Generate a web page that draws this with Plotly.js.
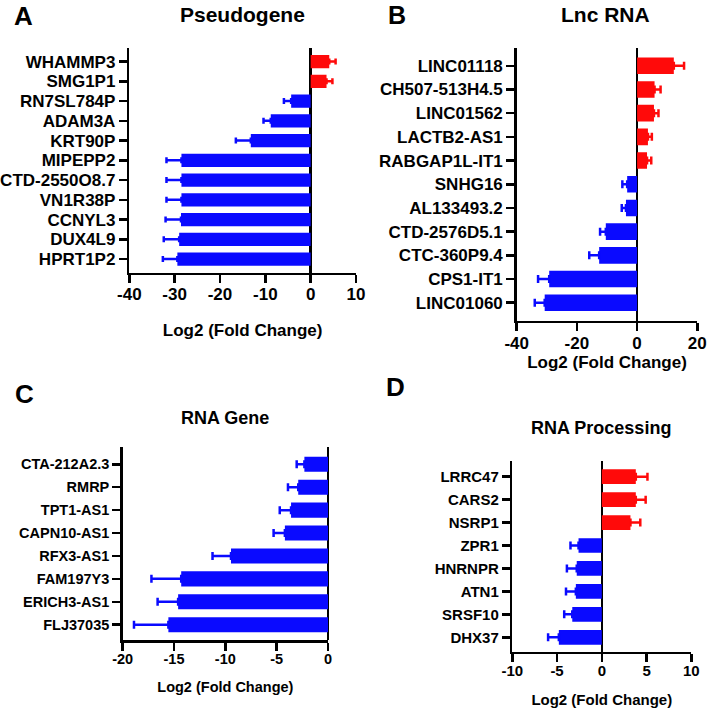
<!DOCTYPE html>
<html>
<head>
<meta charset="utf-8">
<script src="https://cdn.plot.ly/plotly-3.0.1.min.js"></script>
<style>html,body{margin:0;padding:0;background:#fff;}#chart{width:708px;height:711px;}</style>
</head>
<body>
<div id="chart"></div>
<script>
// ---- Panel A: Pseudogene ----
const catsA = ['WHAMMP3','SMG1P1','RN7SL784P','ADAM3A','KRT90P','MIPEPP2','CTD-2550O8.7','VN1R38P','CCNYL3','DUX4L9','HPRT1P2'];
const valsA = [4.1, 3.5, -4.3, -8.8, -13.2, -28.5, -28.5, -28.5, -28.6, -29.0, -29.4];
const errA  = [1.4, 1.3, 1.6, 1.6, 3.3, 3.3, 3.3, 3.3, 3.4, 3.4, 3.2];
const ticksA = [-40, -30, -20, -10, 0, 10];

// ---- Panel B: Lnc RNA ----
const catsB = ['LINC01118','CH507-513H4.5','LINC01562','LACTB2-AS1','RABGAP1L-IT1','SNHG16','AL133493.2','CTD-2576D5.1','CTC-360P9.4','CPS1-IT1','LINC01060'];
const valsB = [12.2, 5.8, 5.6, 3.6, 3.3, -3.3, -3.7, -10.4, -12.6, -29.2, -30.7];
const errB  = [3.4, 2.0, 1.5, 1.3, 1.4, 1.6, 1.4, 1.9, 3.3, 3.7, 3.3];
const ticksB = [-40, -20, 0, 20];

// ---- Panel C: RNA Gene ----
const catsC = ['CTA-212A2.3','RMRP','TPT1-AS1','CAPN10-AS1','RFX3-AS1','FAM197Y3','ERICH3-AS1','FLJ37035'];
const valsC = [-2.3, -2.9, -3.6, -4.2, -9.45, -14.3, -14.6, -15.55];
const errC  = [0.75, 1.0, 1.1, 1.1, 1.8, 2.9, 2.0, 3.35];
const ticksC = [-20, -15, -10, -5, 0];

// ---- Panel D: RNA Processing ----
const catsD = ['LRRC47','CARS2','NSRP1','ZPR1','HNRNPR','ATN1','SRSF10','DHX37'];
const valsD = [3.8, 3.8, 3.2, -2.6, -2.8, -2.9, -3.3, -4.8];
const errD  = [1.3, 1.1, 1.1, 0.9, 1.1, 1.1, 0.9, 1.2];
const ticksD = [-10, -5, 0, 5, 10];

const titles = ['Pseudogene', 'Lnc RNA', 'RNA Gene', 'RNA Processing'];
const letters = ['A', 'B', 'C', 'D'];
const xTitle = 'Log2 (Fold Change)';

const RED = '#ff0a0a', BLUE = '#0a0aff';
const FAM = 'Liberation Sans, Arial, Helvetica, sans-serif';
const W = 708, H = 711;
const px = v => v / W;
const py = v => 1 - v / H;

function traces(cats, vals, errs, xa, ya, capw, lw) {
  const out = [];
  [[1, RED], [-1, BLUE]].forEach(([s, col]) => {
    const x = vals.map(v => (Math.sign(v) === s ? v : null));
    const plus = vals.map((v, i) => (s > 0 && v > 0 ? errs[i] : 0));
    const minus = vals.map((v, i) => (s < 0 && v < 0 ? errs[i] : 0));
    out.push({
      type: 'bar', orientation: 'h', x: x, y: cats, xaxis: xa, yaxis: ya,
      marker: {color: col, line: {width: 0}},
      width: lw,
      error_x: {type: 'data', symmetric: false, array: plus, arrayminus: minus,
                color: col, thickness: 2.5, width: capw},
      hoverinfo: 'x+y', showlegend: false
    });
  });
  return out;
}

const data = [].concat(
  traces(catsA, valsA, errA, 'x', 'y', 3, 0.67),
  traces(catsB, valsB, errB, 'x2', 'y2', 4, 0.70),
  traces(catsC, valsC, errC, 'x3', 'y3', 4, 0.66),
  traces(catsD, valsD, errD, 'x4', 'y4', 4, 0.64)
);

function xax(dom, range, ticks, fs, anchor, standoff, lblOff) {
  return {
    domain: [px(dom[0]), px(dom[1])], range: range, anchor: anchor,
    tickmode: 'array', tickvals: ticks, ticktext: ticks.map(String),
    showline: true, linecolor: '#000', linewidth: 2.5,
    ticks: 'outside', ticklen: 8, tickwidth: 2.5, tickcolor: '#000',
    ticklabelstandoff: lblOff,
    showgrid: false, zeroline: true, zerolinecolor: '#000', zerolinewidth: 2.5,
    tickfont: {family: FAM, size: fs, color: '#000', weight: 700},
    title: {text: xTitle, standoff: standoff, font: {family: FAM, size: fs, color: '#000', weight: 700}},
    fixedrange: true
  };
}
function yax(top, bot, cats, r, fs, anchor) {
  return {
    domain: [py(bot), py(top)], anchor: anchor,
    type: 'category', categoryorder: 'array', categoryarray: cats,
    tickmode: 'array', tickvals: cats, ticktext: cats,
    range: r,
    showline: true, linecolor: '#000', linewidth: 2.5,
    ticks: 'outside', ticklen: 8, tickwidth: 2.5, tickcolor: '#000',
    showgrid: false, zeroline: false,
    tickfont: {family: FAM, size: fs, color: '#000', weight: 700},
    fixedrange: true
  };
}

const ann = [];
function label(text, x, y, size, yanchor) {
  ann.push({text: text, x: px(x), y: py(y), xref: 'paper', yref: 'paper',
    xanchor: 'center', yanchor: yanchor || 'middle', showarrow: false, borderpad: 0,
    font: {family: FAM, size: size, color: '#000', weight: 700}});
}
label(letters[0], 23, 16, 26);
label(letters[1], 397, 0, 25, 'top');
label(letters[2], 24, 394, 26);
label(letters[3], 396, 387, 26);
label(titles[0], 242, 15, 21);
label(titles[1], 605, 15, 21);
label(titles[2], 225, 418, 18);
label(titles[3], 601, 428, 18);

const layout = {
  width: W, height: H,
  margin: {l: 0, r: 0, t: 0, b: 0},
  paper_bgcolor: '#fff', plot_bgcolor: 'rgba(0,0,0,0)',
  barmode: 'overlay', showlegend: false,
  xaxis:  xax([129.3, 356], [-40, 10], ticksA, 17, 'y', 22, -4),
  yaxis:  yax(48, 272.7, catsA, [10.69, -0.69], 17, 'x'),
  xaxis2: xax([516.7, 697.3], [-40, 20], ticksB, 17, 'y2', 4, -2),
  yaxis2: yax(48, 320.5, catsB, [10.75, -0.75], 17, 'x2'),
  xaxis3: xax([122.7, 328], [-20, 0], ticksC, 14.5, 'y3', 16, -4),
  yaxis3: yax(447, 640, catsC, [7.668, -0.755], 14.5, 'x3'),
  xaxis4: xax([512.3, 691.3], [-10, 10], ticksD, 15, 'y4', 17, -4),
  yaxis4: yax(460.7, 651.7, catsD, [7.628, -0.697], 15, 'x4'),
  annotations: ann
};

Plotly.newPlot('chart', data, layout, {displayModeBar: false, staticPlot: true});
</script>
</body>
</html>
